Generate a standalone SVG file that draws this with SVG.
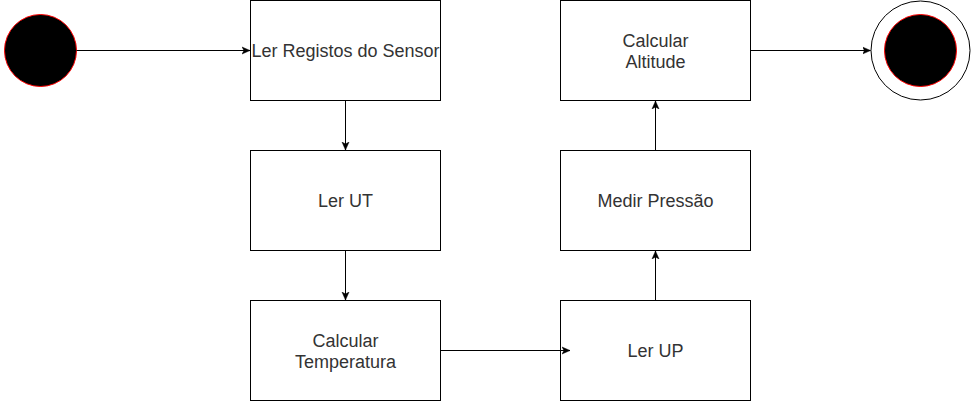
<svg xmlns="http://www.w3.org/2000/svg" width="971" height="401" viewBox="0 0 971 401">
<style>
.box{fill:#fff;stroke:#000;stroke-width:1}
.lbl{font-family:"Liberation Sans",Arial,sans-serif;font-size:18px;fill:#333;text-anchor:middle}
.edge{fill:none;stroke:#000;stroke-width:1;marker-end:url(#arr)}
.dot{fill:#000;stroke:#ff0000;stroke-width:1}
</style>
<defs>
<marker id="arr" markerUnits="userSpaceOnUse" markerWidth="10" markerHeight="10" viewBox="0 0 10 10" refX="8" refY="5" orient="auto">
<path d="M0,1.5 L8,5 L0,8.5 L2,5 Z" fill="#000" stroke="#000" stroke-width="0.5"/>
</marker>
</defs>
<g id="start"><circle class="dot" cx="40.5" cy="50.5" r="36"/></g>
<g id="end"><circle cx="920.5" cy="50.5" r="49.5" fill="#fff" stroke="#000"/><circle class="dot" cx="920.5" cy="50.5" r="36"/></g>
<g id="n1"><rect class="box" x="250.5" y="0.5" width="190" height="100"/><text class="lbl" x="345.5" y="57">Ler Registos do Sensor</text></g>
<g id="n2"><rect class="box" x="250.5" y="150.5" width="190" height="100"/><text class="lbl" x="345.5" y="207">Ler UT</text></g>
<g id="n3"><rect class="box" x="250.5" y="300.5" width="190" height="100"/><text class="lbl" x="345.5" y="346.5">Calcular</text><text class="lbl" x="345.5" y="367.5">Temperatura</text></g>
<g id="n4"><rect class="box" x="560.5" y="300.5" width="190" height="100"/><text class="lbl" x="655.5" y="357">Ler UP</text></g>
<g id="n5"><rect class="box" x="560.5" y="150.5" width="190" height="100"/><text class="lbl" x="655.5" y="207">Medir Pressão</text></g>
<g id="n6"><rect class="box" x="560.5" y="0.5" width="190" height="100"/><text class="lbl" x="655.5" y="46.5">Calcular</text><text class="lbl" x="655.5" y="67.5">Altitude</text></g>
<g id="connectors">
<path class="edge" d="M76.5,50.5 L250,50.5"/>
<path class="edge" d="M345.5,100.5 L345.5,150"/>
<path class="edge" d="M345.5,250.5 L345.5,300"/>
<path class="edge" d="M440.5,350.5 L570,350.5"/>
<path class="edge" d="M655.5,300.5 L655.5,251"/>
<path class="edge" d="M655.5,150.5 L655.5,101"/>
<path class="edge" d="M750.5,50.5 L870.5,50.5"/>
</g>
</svg>
